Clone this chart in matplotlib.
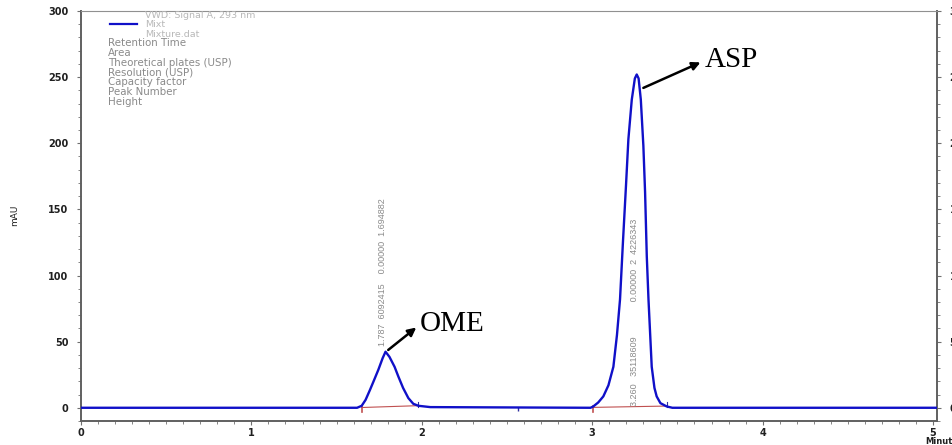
import matplotlib.pyplot as plt
from matplotlib.ticker import MultipleLocator

# chromatogram trace (minutes, mAU)
t = [0.0, 1.62, 1.647, 1.67, 1.696, 1.72, 1.745, 1.77, 1.787, 1.81, 1.84,
     1.862, 1.89, 1.921, 1.95, 1.98, 2.05, 2.99, 3.006, 3.035, 3.065, 3.095,
     3.124, 3.145, 3.163, 3.18, 3.198, 3.212, 3.232, 3.25, 3.261, 3.272,
     3.285, 3.30, 3.31, 3.32, 3.33, 3.349, 3.365, 3.378, 3.40, 3.437, 3.47, 5.05]
mau = [0.0, 0.0, 1.5, 6.0, 13.6, 21.0, 28.8, 37.5, 42.4, 38.5, 31.0,
       23.7, 15.0, 7.3, 3.0, 1.5, 0.5, 0.0, 1.0, 4.0, 8.6, 17.0,
       31.0, 55.0, 82.0, 125.0, 168.0, 203.0, 233.0, 249.0, 252.0, 249.0,
       233.0, 198.0, 163.0, 114.6, 82.0, 31.0, 15.0, 8.6, 3.5, 1.0, 0.0, 0.0]

# integration baselines (red)
base1_t = [1.647, 1.98]
base1_v = [0.2, 1.6]
base2_t = [3.006, 3.437]
base2_v = [0.3, 1.3]
peak_end = [1.98, 3.437]

peak_labels = ["OME", "ASP"]
peak_apex = [(1.79, 42.4), (3.285, 241.0)]
peak_text = [(1.98, 62.0), (3.65, 262.0)]
peak_info = ["1.787  6092415    0.00000  1.694882",
             "3.260   35118609              0.00000  2  4226343"]
info_pos = [(1.772, 47.0), (3.25, 1.5)]

legend_head = ["VWD: Signal A, 293 nm", "Mixt", "Mixture.dat"]
legend_rows = ["Retention Time", "Area", "Theoretical plates (USP)",
               "Resolution (USP)", "Capacity factor", "Peak Number", "Height"]

plt.rcParams['font.family'] = ['DejaVu Sans']

fig = plt.figure(figsize=(9.53, 4.45), dpi=100)
ax = fig.add_axes([81/953, 1-421/445, (937-81)/953, (421-11)/445])

ax.plot(t, mau, color="#1010c8", lw=1.7, zorder=3)
ax.plot(base1_t, base1_v, color="#c05050", lw=0.8, zorder=2)
ax.plot(base2_t, base2_v, color="#c05050", lw=0.8, zorder=2)
for x0 in [base1_t[0], base2_t[0]]:
    ax.plot([x0, x0], [-3.5, 1.5], color="#c05050", lw=1.2, zorder=2)
for x1 in peak_end:
    ax.plot([x1, x1], [0.5, 4.0], color="#3030a0", lw=0.8, zorder=2)
ax.plot([2.565], [-1.2], marker="|", ms=3, color="#3030a0")

ax.set_xlim(0, 5.023)
ax.set_ylim(-10, 300)
ax.xaxis.set_major_locator(MultipleLocator(1))
ax.xaxis.set_minor_locator(MultipleLocator(0.1))
ax.yaxis.set_major_locator(MultipleLocator(50))
ax.yaxis.set_minor_locator(MultipleLocator(10))
ax.tick_params(which="both", direction="out", colors="#707070", labelcolor="#202020",
               labelsize=7, right=True, labelright=True)
ax.tick_params(which="major", length=3, width=0.8)
ax.tick_params(which="minor", length=2, width=0.6)
ax.tick_params(axis="y", pad=6)
ax.tick_params(axis="x", pad=2)
for lab in ax.get_xticklabels() + ax.get_yticklabels():
    lab.set_fontweight("bold")
for s in ["left", "bottom", "right"]:
    ax.spines[s].set_color("#606060")
    ax.spines[s].set_linewidth(1.4)
ax.spines["top"].set_color("#909090")
ax.spines["top"].set_linewidth(0.8)

fig.text(15/953, 1-215/445, "mAU", rotation=90, fontsize=6.5, ha="center", va="center",
         color="#202020")
fig.text(925/953, 1-442/445, "Minutes", fontsize=6, ha="left", va="center",
         fontweight="bold", color="#202020")

# legend block
ax.plot([0.17, 0.33], [290.5, 290.5], color="#1010c8", lw=1.6)
for i, s in enumerate(legend_head):
    fig.text(145/953, 1-(15.5+9.3*i)/445, s, fontsize=6.8, color="#b8b8b8", va="center")
for i, s in enumerate(legend_rows):
    fig.text(108/953, 1-(43+9.8*i)/445, s, fontsize=7.4, color="#8a8a8a", va="center")

for lab, (xa, ya), (xt, yt) in zip(peak_labels, peak_apex, peak_text):
    ax.annotate("", xy=(xt, yt), xytext=(xa, ya),
                arrowprops=dict(arrowstyle="-|>", color="black", lw=1.8, mutation_scale=12))
    ax.text(xt + 0.01, yt + 1, lab, family=["Liberation Serif", "DejaVu Serif"],
            fontsize=21, va="center", ha="left", color="black")

for s, (xi, yi) in zip(peak_info, info_pos):
    ax.text(xi, yi, s, rotation=90, fontsize=6.5, color="#8a8a8a",
            family=["Liberation Sans", "DejaVu Sans"], ha="center", va="bottom")

fig.savefig("out.png", dpi=100)
